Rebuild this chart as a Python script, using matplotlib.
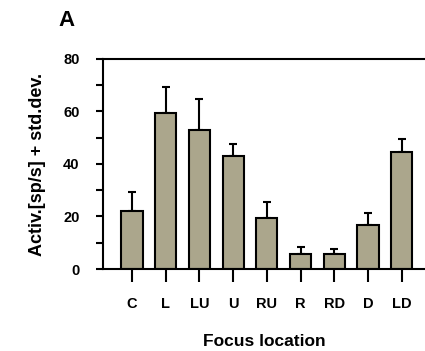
import matplotlib
matplotlib.use("Agg")
import matplotlib.pyplot as plt
from matplotlib.ticker import MultipleLocator

plt.rcParams["font.family"] = ["Liberation Sans", "DejaVu Sans"]

# Mean activity per focus location, with standard deviation
locations = ["C", "L", "LU", "U", "RU", "R", "RD", "D", "LD"]
activity = [22.0, 59.3, 53.0, 43.0, 19.3, 5.7, 5.7, 16.8, 44.7]
std_dev = [7.2, 9.9, 11.9, 4.5, 6.3, 2.8, 1.8, 4.4, 4.7]

bar_color = "#aba68c"

fig = plt.figure(figsize=(4.25, 3.51), dpi=100)
ax = fig.add_axes([0.2424, 0.2336, 0.7576, 0.5984])

x = range(len(locations))
ax.bar(x, activity, width=0.63, color=bar_color, edgecolor="black",
       linewidth=1.5, zorder=2)
ax.errorbar(x, activity, yerr=[[0] * len(std_dev), std_dev], fmt="none",
            ecolor="black", elinewidth=1.5, capsize=3, capthick=1.5, zorder=1)

ax.set_xlim(-0.86, 8.69)
ax.set_ylim(0, 80)
ax.yaxis.set_major_locator(MultipleLocator(20))
ax.yaxis.set_minor_locator(MultipleLocator(10))
ax.set_xticks(list(x))
ax.set_xticklabels(locations, fontsize=10.5, fontweight="bold")
for lbl in ax.get_yticklabels():
    lbl.set_fontsize(10.5)
    lbl.set_fontweight("bold")

ax.tick_params(axis="y", which="both", length=5, width=1.5, direction="out", pad=12)
ax.tick_params(axis="x", length=9, width=1.5, direction="out", pad=11)

for side in ("left", "bottom", "top"):
    ax.spines[side].set_linewidth(1.5)
ax.spines["right"].set_visible(False)

ax.set_xlabel("Focus location", fontsize=12.5, fontweight="bold", labelpad=17)
ax.set_ylabel("Activ.[sp/s] + std.dev.", fontsize=13, fontweight="bold", labelpad=12)

fig.text(0.138, 0.942, "A", fontsize=16, fontweight="bold", va="center", ha="left")

fig.savefig("out.png", dpi=100)
